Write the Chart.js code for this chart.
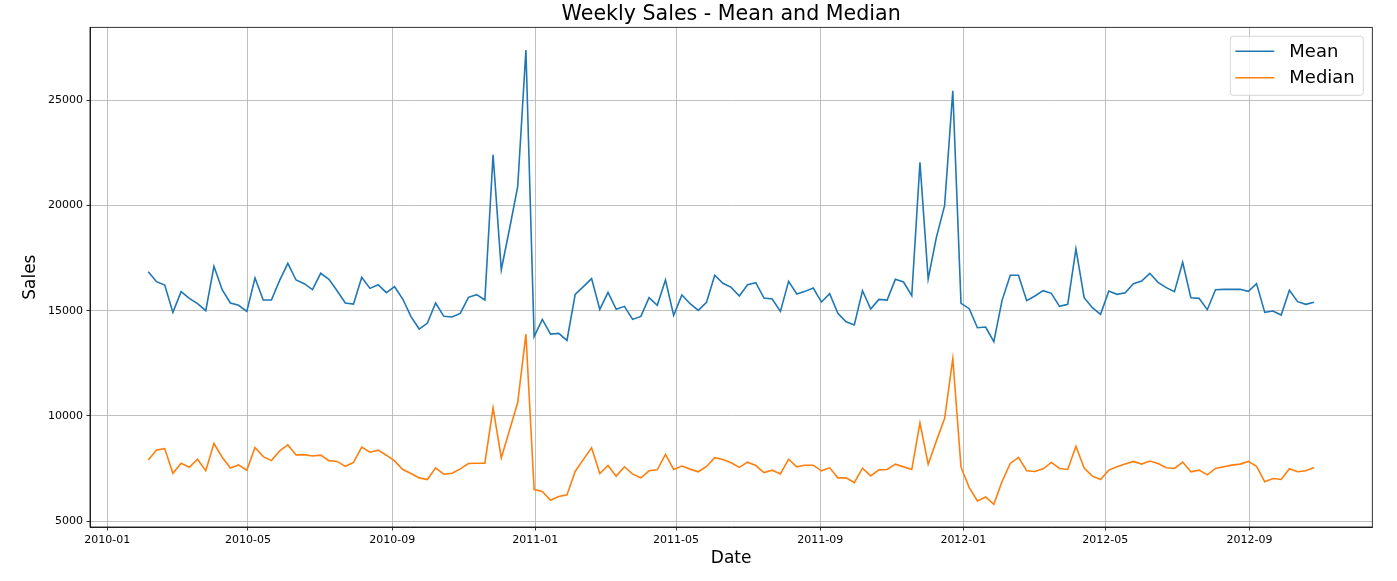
<!DOCTYPE html>
<html>
<head>
<meta charset="utf-8">
<script src="https://cdn.jsdelivr.net/npm/chart.js@4.4.1/dist/chart.umd.min.js"></script>
<style>
  html, body { margin: 0; padding: 0; background: #fff; }
  #wrap { width: 1397px; height: 581px; position: relative; }
</style>
</head>
<body>
<div id="wrap"><canvas id="c"></canvas></div>
<script>
// ---- Data ----
const startWeek = '2010-02-05';   // first weekly date, one point per week
const meanSales = [
  16857, 16381, 16222, 14921, 15905, 15587, 15333, 15000, 17111, 16000,
  15365, 15254, 14968, 16556, 15508, 15508, 16444, 17254, 16460, 16286,
  16000, 16778, 16492, 15950, 15365, 15317, 16585, 16062, 16236, 15856,
  16141, 15555, 14715, 14128, 14414, 15365, 14731, 14699, 14873, 15634,
  15761, 15507, 22417, 16949, 18883, 20895, 27393, 13764, 14587, 13889,
  13921, 13587, 15778, 16143, 16524, 15063, 15873, 15063, 15206, 14587,
  14730, 15619, 15254, 16460, 14778, 15746, 15333, 15016, 15397, 16683,
  16302, 16111, 15698, 16236, 16331, 15602, 15555, 14968, 16395, 15792,
  15919, 16078, 15412, 15808, 14873, 14477, 14319, 15951, 15079, 15539,
  15507, 16490, 16363, 15713, 22052, 16506, 18487, 19992, 25460, 15349,
  15095, 14190, 14222, 13524, 15492, 16683, 16683, 15476, 15698, 15952,
  15825, 15206, 15302, 17937, 15619, 15143, 14825, 15937, 15778, 15857,
  16286, 16413, 16778, 16349, 16095, 15905, 17302, 15619, 15587, 15048,
  16000, 16016, 16016, 16016, 15921, 16286, 14921, 14984, 14794, 15968,
  15429, 15302, 15397
];
const medianSales = [
  7905, 8381, 8444, 7270, 7746, 7556, 7937, 7397, 8683, 8032,
  7524, 7667, 7413, 8492, 8063, 7873, 8333, 8619, 8143, 8159,
  8095, 8130, 7870, 7834, 7600, 7790, 8515, 8273, 8368, 8130,
  7861, 7448, 7258, 7052, 6973, 7528, 7227, 7274, 7480, 7734,
  7750, 7750, 10380, 8003, 9319, 10634, 13883, 6497, 6401, 5987,
  6162, 6242, 7357, 7930, 8487, 7261, 7643, 7134, 7580, 7229,
  7054, 7389, 7436, 8169, 7452, 7611, 7468, 7341, 7596, 8010,
  7930, 7771, 7548, 7797, 7639, 7306, 7417, 7242, 7940, 7575,
  7655, 7655, 7385, 7528, 7052, 7052, 6830, 7512, 7147, 7433,
  7448, 7702, 7575, 7448, 9667, 7702, 8811, 9873, 12726, 7560,
  6592, 5955, 6146, 5796, 6879, 7739, 8025, 7389, 7357, 7484,
  7787, 7500, 7452, 8551, 7516, 7134, 6975, 7420, 7580, 7707,
  7834, 7707, 7850, 7739, 7532, 7500, 7803, 7341, 7420, 7197,
  7500, 7580, 7659, 7707, 7834, 7596, 6863, 7022, 6975, 7484,
  7341, 7389, 7548
];
const xTickLabels = ['2010-01','2010-05','2010-09','2011-01','2011-05','2011-09','2012-01','2012-05','2012-09'];
const yTickValues = [5000, 10000, 15000, 20000, 25000];
const seriesNames = ['Mean', 'Median'];
const chartTitle = 'Weekly Sales - Mean and Median';
const xTitle = 'Date';
const yTitle = 'Sales';

// ---- Derived helpers ----
const DAY = 86400000;
const t0 = Date.parse(startWeek + 'T00:00:00Z');
const weekDates = meanSales.map((_, i) => t0 + i * 7 * DAY);
const xTickValues = xTickLabels.map(s => { const [y, m] = s.split('-').map(Number); return Date.UTC(y, m - 1, 1); });

// matplotlib-style 5% margins
const xMinD = weekDates[0], xMaxD = weekDates[weekDates.length - 1];
const xPad = (xMaxD - xMinD) * 0.05;
const allY = meanSales.concat(medianSales);
const yMinD = Math.min(...allY), yMaxD = Math.max(...allY);
const yPad = (yMaxD - yMinD) * 0.05;

const FONT = 'DejaVu Sans';
const COLORS = ['#1f77b4', '#ff7f0e'];

const framePlugin = {
  id: 'frame',
  afterDraw(chart) {
    const { ctx, chartArea: a } = chart;
    ctx.save();
    ctx.strokeStyle = '#000';
    ctx.lineWidth = 0.8;
    ctx.strokeRect(a.left, a.top, a.right - a.left, a.bottom - a.top);
    // legend (matplotlib style, upper right)
    const bx = a.right - 142, by = a.top + 9, bw = 133, bh = 59;
    ctx.globalAlpha = 0.8;
    ctx.fillStyle = '#fff';
    ctx.strokeStyle = '#cccccc';
    ctx.lineWidth = 1;
    ctx.beginPath();
    if (ctx.roundRect) ctx.roundRect(bx, by, bw, bh, 3); else ctx.rect(bx, by, bw, bh);
    ctx.fill();
    ctx.stroke();
    ctx.globalAlpha = 1;
    const rowY = [by + 15, by + 41.5];
    ctx.font = '18px "' + FONT + '"';
    ctx.textBaseline = 'middle';
    ctx.textAlign = 'left';
    seriesNames.forEach((name, i) => {
      ctx.strokeStyle = COLORS[i];
      ctx.lineWidth = 1.5;
      ctx.beginPath();
      ctx.moveTo(bx + 5, rowY[i]);
      ctx.lineTo(bx + 44, rowY[i]);
      ctx.stroke();
      ctx.fillStyle = '#000';
      ctx.fillText(name, bx + 59, rowY[i] + 1);
    });
    ctx.restore();
  }
};

new Chart(document.getElementById('c'), {
  type: 'line',
  data: {
    datasets: [
      { label: seriesNames[0], data: weekDates.map((x, i) => ({ x, y: meanSales[i] })),
        borderColor: COLORS[0], backgroundColor: COLORS[0], borderWidth: 1.6, pointRadius: 0, tension: 0, fill: false },
      { label: seriesNames[1], data: weekDates.map((x, i) => ({ x, y: medianSales[i] })),
        borderColor: COLORS[1], backgroundColor: COLORS[1], borderWidth: 1.6, pointRadius: 0, tension: 0, fill: false }
    ]
  },
  options: {
    responsive: true,
    maintainAspectRatio: false,
    animation: false,
    events: [],
    layout: { padding: { left: 0, right: 24.7, top: 0, bottom: 0 } },
    plugins: {
      legend: { display: false },
      tooltip: { enabled: false },
      title: {
        display: true, text: chartTitle, color: '#000', fullSize: false,
        font: { family: FONT, size: 20.6, weight: 'normal' },
        padding: { top: 2.6, bottom: 0 }
      }
    },
    scales: {
      x: {
        type: 'linear',
        min: xMinD - xPad, max: xMaxD + xPad,
        afterBuildTicks: s => { s.ticks = xTickValues.map(v => ({ value: v })); },
        afterFit: s => { s.height = 54; },
        ticks: {
          autoSkip: false, maxRotation: 0, minRotation: 0, padding: 3,
          color: '#000', font: { family: FONT, size: 11 },
          callback: (v, i) => xTickLabels[i]
        },
        grid: { color: '#b0b0b0', lineWidth: 0.8, drawTicks: true, tickLength: 3.5, tickColor: '#000', tickWidth: 0.8 },
        border: { display: true, color: '#000', width: 0.8 },
        title: { display: true, text: xTitle, color: '#000', font: { family: FONT, size: 17 }, padding: { top: 0, bottom: 12 } }
      },
      y: {
        type: 'linear',
        min: yMinD - yPad, max: yMaxD + yPad,
        afterBuildTicks: s => { s.ticks = yTickValues.map(v => ({ value: v })); },
        afterFit: s => { s.width = 90; },
        ticks: {
          padding: 3.5, color: '#000', font: { family: FONT, size: 11 },
          callback: v => String(v)
        },
        grid: { color: '#b0b0b0', lineWidth: 0.8, drawTicks: true, tickLength: 3.5, tickColor: '#000', tickWidth: 0.8 },
        border: { display: true, color: '#000', width: 0.8 },
        title: { display: true, text: yTitle, color: '#000', font: { family: FONT, size: 17 }, padding: { top: 20, bottom: 0 } }
      }
    }
  },
  plugins: [framePlugin]
});
</script>
</body>
</html>
